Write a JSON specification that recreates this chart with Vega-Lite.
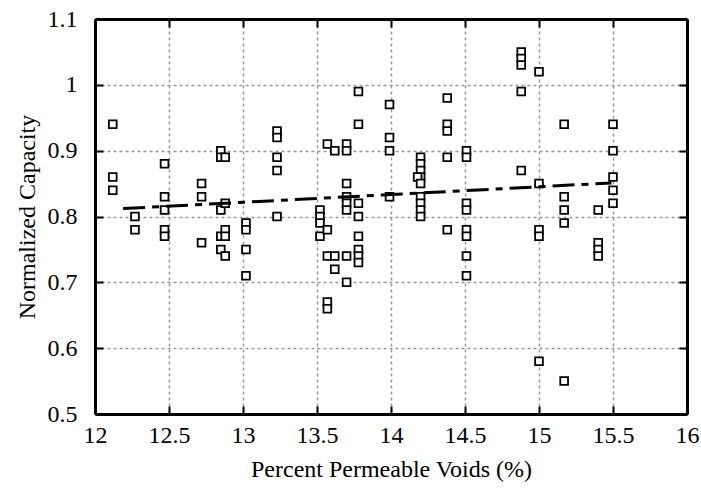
{
  "$schema": "https://vega.github.io/schema/vega-lite/v6.json",
  "autosize": "none",
  "width": 592,
  "height": 395,
  "padding": {"left": 95, "top": 19, "right": 14, "bottom": 79},
  "background": "white",
  "config": {
    "view": {"stroke": null},
    "font": "Liberation Serif",
    "axis": {
      "domainColor": "black",
      "domainWidth": 3,
      "tickColor": "black",
      "tickWidth": 2,
      "tickSize": -8,
      "labelFont": "Liberation Serif",
      "titleFont": "Liberation Serif",
      "labelFontSize": 24,
      "titleFontSize": 24,
      "labelColor": "black",
      "titleColor": "black",
      "titleFontWeight": "normal",
      "gridColor": "#999999",
      "gridDash": [3, 3],
      "gridWidth": 1.5,
      "gridOpacity": 1
    }
  },
  "datasets": {
    "pts": [
      {"x": 12.12, "y": 0.94}, {"x": 12.12, "y": 0.86}, {"x": 12.12, "y": 0.84},
      {"x": 12.27, "y": 0.80}, {"x": 12.27, "y": 0.78},
      {"x": 12.47, "y": 0.88}, {"x": 12.47, "y": 0.83}, {"x": 12.47, "y": 0.81}, {"x": 12.47, "y": 0.78}, {"x": 12.47, "y": 0.77},
      {"x": 12.72, "y": 0.85}, {"x": 12.72, "y": 0.83}, {"x": 12.72, "y": 0.76},
      {"x": 12.85, "y": 0.90}, {"x": 12.85, "y": 0.89}, {"x": 12.85, "y": 0.81}, {"x": 12.85, "y": 0.77}, {"x": 12.85, "y": 0.75},
      {"x": 12.88, "y": 0.89}, {"x": 12.88, "y": 0.82}, {"x": 12.88, "y": 0.78}, {"x": 12.88, "y": 0.77}, {"x": 12.88, "y": 0.74},
      {"x": 13.02, "y": 0.79}, {"x": 13.02, "y": 0.78}, {"x": 13.02, "y": 0.75}, {"x": 13.02, "y": 0.71},
      {"x": 13.23, "y": 0.93}, {"x": 13.23, "y": 0.92}, {"x": 13.23, "y": 0.89}, {"x": 13.23, "y": 0.87}, {"x": 13.23, "y": 0.80},
      {"x": 13.52, "y": 0.81}, {"x": 13.52, "y": 0.80}, {"x": 13.52, "y": 0.79}, {"x": 13.52, "y": 0.77},
      {"x": 13.57, "y": 0.91}, {"x": 13.57, "y": 0.78}, {"x": 13.57, "y": 0.74}, {"x": 13.57, "y": 0.67}, {"x": 13.57, "y": 0.66},
      {"x": 13.62, "y": 0.90}, {"x": 13.62, "y": 0.74}, {"x": 13.62, "y": 0.72},
      {"x": 13.70, "y": 0.91}, {"x": 13.70, "y": 0.90}, {"x": 13.70, "y": 0.85}, {"x": 13.70, "y": 0.83}, {"x": 13.70, "y": 0.82}, {"x": 13.70, "y": 0.81}, {"x": 13.70, "y": 0.74}, {"x": 13.70, "y": 0.70},
      {"x": 13.78, "y": 0.99}, {"x": 13.78, "y": 0.94}, {"x": 13.78, "y": 0.82}, {"x": 13.78, "y": 0.80}, {"x": 13.78, "y": 0.77}, {"x": 13.78, "y": 0.75}, {"x": 13.78, "y": 0.74}, {"x": 13.78, "y": 0.73},
      {"x": 13.99, "y": 0.97}, {"x": 13.99, "y": 0.92}, {"x": 13.99, "y": 0.90}, {"x": 13.99, "y": 0.83},
      {"x": 14.20, "y": 0.89}, {"x": 14.20, "y": 0.88}, {"x": 14.20, "y": 0.87}, {"x": 14.20, "y": 0.86}, {"x": 14.18, "y": 0.86}, {"x": 14.20, "y": 0.85}, {"x": 14.20, "y": 0.83}, {"x": 14.20, "y": 0.82}, {"x": 14.20, "y": 0.81}, {"x": 14.20, "y": 0.80},
      {"x": 14.38, "y": 0.98}, {"x": 14.38, "y": 0.94}, {"x": 14.38, "y": 0.93}, {"x": 14.38, "y": 0.89}, {"x": 14.38, "y": 0.78},
      {"x": 14.51, "y": 0.90}, {"x": 14.51, "y": 0.89}, {"x": 14.51, "y": 0.82}, {"x": 14.51, "y": 0.81}, {"x": 14.51, "y": 0.78}, {"x": 14.51, "y": 0.77}, {"x": 14.51, "y": 0.74}, {"x": 14.51, "y": 0.71},
      {"x": 14.88, "y": 1.05}, {"x": 14.88, "y": 1.04}, {"x": 14.88, "y": 1.03}, {"x": 14.88, "y": 0.99}, {"x": 14.88, "y": 0.87},
      {"x": 15.00, "y": 1.02}, {"x": 15.00, "y": 0.85}, {"x": 15.00, "y": 0.78}, {"x": 15.00, "y": 0.77}, {"x": 15.00, "y": 0.58},
      {"x": 15.17, "y": 0.94}, {"x": 15.17, "y": 0.83}, {"x": 15.17, "y": 0.81}, {"x": 15.17, "y": 0.79}, {"x": 15.17, "y": 0.55},
      {"x": 15.40, "y": 0.81}, {"x": 15.40, "y": 0.76}, {"x": 15.40, "y": 0.75}, {"x": 15.40, "y": 0.74},
      {"x": 15.50, "y": 0.94}, {"x": 15.50, "y": 0.90}, {"x": 15.50, "y": 0.86}, {"x": 15.50, "y": 0.84}, {"x": 15.50, "y": 0.82}
    ],
    "trend": [
      {"x": 12.19, "y": 0.812},
      {"x": 15.49, "y": 0.851}
    ]
  },
  "layer": [
    {
      "data": {"name": "pts"},
      "mark": {"type": "point", "shape": "square", "fill": "white", "stroke": "black", "strokeWidth": 1.8, "size": 60, "opacity": 1, "fillOpacity": 1},
      "encoding": {
        "x": {"field": "x", "type": "quantitative", "scale": {"domain": [12, 16], "nice": false, "zero": false},
              "axis": {"orient": "bottom", "title": "Percent Permeable Voids (%)", "format": "~g", "grid": true, "values": [12, 12.5, 13, 13.5, 14, 14.5, 15, 15.5, 16], "labelPadding": 17, "titlePadding": 10, "labelFlush": false}},
        "y": {"field": "y", "type": "quantitative", "scale": {"domain": [0.5, 1.1], "nice": false, "zero": false},
              "axis": {"orient": "left", "title": "Normalized Capacity", "format": "~g", "grid": true, "values": [0.5, 0.6, 0.7, 0.8, 0.9, 1.0, 1.1], "labelPadding": 26, "titlePadding": 8, "labelFlush": false}}
      }
    },
    {
      "data": {"name": "trend"},
      "mark": {"type": "line", "color": "black", "strokeWidth": 3, "strokeDash": [22, 7, 7, 7]},
      "encoding": {
        "x": {"field": "x", "type": "quantitative", "scale": {"domain": [12, 16], "nice": false, "zero": false},
              "axis": {"orient": "top", "labels": false, "title": null, "grid": false, "values": [12, 12.5, 13, 13.5, 14, 14.5, 15, 15.5, 16]}},
        "y": {"field": "y", "type": "quantitative", "scale": {"domain": [0.5, 1.1], "nice": false, "zero": false},
              "axis": {"orient": "right", "labels": false, "title": null, "grid": false, "values": [0.5, 0.6, 0.7, 0.8, 0.9, 1.0, 1.1]}}
      }
    }
  ],
  "resolve": {"axis": {"x": "independent", "y": "independent"}}
}
